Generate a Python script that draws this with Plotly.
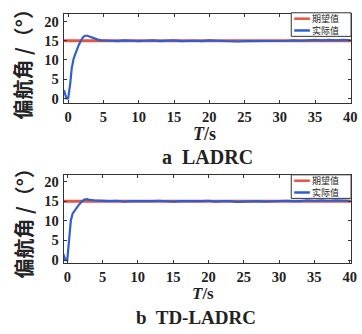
import plotly.graph_objects as go

# ---------------- data ----------------
# (a) LADRC
t_a = [-0.6, -0.4, -0.25, 0.0, 0.15, 0.3, 0.5, 0.75, 1.0, 1.25, 1.5, 1.8, 2.1, 2.4, 2.7, 3.0, 3.4, 3.8, 4.2, 4.7, 5.2,
       6, 7, 8, 9, 10, 11, 12, 13, 14, 15, 16, 17, 18, 19, 20, 21, 22, 23, 24, 25, 26, 27, 28, 29, 30,
       31, 32, 33, 34, 35, 36, 37, 38, 39, 40]
y_a = [2.2, 1.0, 0.0, 0.0, 1.5, 4.0, 7.8, 10.2, 11.5, 12.8, 13.9, 15.0, 15.9, 16.3, 16.3, 16.1, 15.8, 15.5, 15.3, 15.1, 15.0,
       15.0, 14.9, 15.1, 15.0, 14.9, 15.0, 15.1, 14.9, 15.0, 15.1, 14.9, 15.0, 15.0, 14.9, 15.1, 15.0, 14.9, 14.9, 14.8, 14.9, 14.9, 15.0, 14.9, 15.0, 15.0,
       15.0, 15.1, 15.0, 15.1, 15.2, 15.1, 15.2, 15.1, 15.2, 15.1]
ref_t_a = [-0.6, 40.5]
ref_y_a = [15, 15]

# (b) TD-LADRC
t_b = [-0.6, -0.4, -0.25, 0.0, 0.15, 0.3, 0.5, 0.75, 1.0, 1.3, 1.6, 2.0, 2.4, 2.8, 3.2, 3.8, 4.5, 5.2,
       6, 7, 8, 9, 10, 11, 12, 13, 14, 15, 16, 17, 18, 19, 20, 21, 22, 23, 24, 25, 26, 27, 28, 29, 30,
       31, 32, 33, 34, 35, 36, 37, 38, 39, 40]
y_b = [1.7, 0.6, 0.0, 0.0, 2.5, 6.5, 10.0, 11.8, 12.5, 13.2, 14.0, 14.8, 15.4, 15.5, 15.3, 15.2, 15.1, 15.1,
       15.0, 15.1, 14.9, 15.0, 15.0, 14.9, 15.0, 15.1, 15.0, 14.9, 15.0, 15.0, 14.9, 15.0, 15.1, 14.9, 15.0, 15.0, 14.8, 14.9, 14.9, 15.0, 14.9, 15.0, 15.0,
       15.1, 15.0, 15.0, 15.2, 15.1, 15.2, 15.1, 15.2, 15.1, 15.1]
ref_t_b = [-0.6, 40.5]
ref_y_b = [15, 15]

x_ticks = [0, 5, 10, 15, 20, 25, 30, 35, 40]
y_ticks = [0, 5, 10, 15, 20]
name_ref = "期望值"
name_act = "实际值"
ylabel = "偏航角 /（°）"
xlabel = "<i>T</i>/s"
cap_a = "a  LADRC"
cap_b = "b  TD-LADRC"

RED = "#e8553f"
BLUE = "#2f5fcf"
INK = "#222"
W, H = 362, 334

fig = go.Figure()
fig.add_trace(go.Scatter(x=ref_t_a, y=ref_y_a, mode="lines", name=name_ref,
                         line=dict(color=RED, width=3), xaxis="x", yaxis="y"))
fig.add_trace(go.Scatter(x=t_a, y=y_a, mode="lines", name=name_act,
                         line=dict(color=BLUE, width=2.2), xaxis="x", yaxis="y"))
fig.add_trace(go.Scatter(x=ref_t_b, y=ref_y_b, mode="lines", name=name_ref,
                         line=dict(color=RED, width=3), xaxis="x2", yaxis="y2"))
fig.add_trace(go.Scatter(x=t_b, y=y_b, mode="lines", name=name_act,
                         line=dict(color=BLUE, width=2.2), xaxis="x2", yaxis="y2"))

tickfont = dict(family="Liberation Serif", size=14.5, color=INK, weight="bold")
xd = [65 / W, 358 / W]
dom_a = [1 - 104 / H, 1 - 13 / H]
dom_b = [1 - 267 / H, 1 - 177 / H]

axis_common = dict(showline=True, linecolor="#333", linewidth=1, mirror="ticks", ticks="inside",
                   ticklen=3, tickcolor="#333", showgrid=False, zeroline=False, tickfont=tickfont,
                   ticklabeloverflow="allow")

fig.update_layout(
    width=W, height=H, margin=dict(l=0, r=0, t=0, b=0),
    paper_bgcolor="white", plot_bgcolor="white", showlegend=False,
    xaxis=dict(domain=xd, range=[-0.63, 40.1], tickvals=x_ticks, anchor="y", ticklabelstandoff=0, **axis_common),
    yaxis=dict(domain=dom_a, range=[-1.2, 22], tickvals=y_ticks, anchor="x", ticklabelstandoff=1, **axis_common),
    xaxis2=dict(domain=xd, range=[-0.5, 40.2], tickvals=x_ticks, anchor="y2", ticklabelstandoff=0, **axis_common),
    yaxis2=dict(domain=dom_b, range=[-0.8, 21.7], tickvals=y_ticks, anchor="x2", ticklabelstandoff=1, **axis_common),
)

# custom compact legends (decoration, in paper pixels)
def px_x(v):
    return v / W

def px_y(v):
    return 1 - v / H

for top in (12, 177):
    fig.add_shape(type="rect", xref="paper", yref="paper", x0=px_x(297), x1=px_x(358), y0=px_y(top + 24), y1=px_y(top),
                  line=dict(color="#333", width=1), fillcolor="white", layer="above")
    for k, (col, nm) in enumerate(((RED, name_ref), (BLUE, name_act))):
        yy = top + 6 + k * 12
        fig.add_shape(type="line", xref="paper", yref="paper", x0=px_x(300), x1=px_x(316), y0=px_y(yy), y1=px_y(yy),
                      line=dict(color=col, width=2.5), layer="above")
        fig.add_annotation(xref="paper", yref="paper", x=px_x(317), y=px_y(yy), text=nm, showarrow=False,
                           xanchor="left", yanchor="middle", borderpad=0,
                           font=dict(family="Noto Sans CJK SC", size=9, color=INK))

annots = [
    dict(text=ylabel, x=23 / W, y=1 - 60 / H, textangle=-90, font=dict(family="Noto Sans CJK SC", size=20, color=INK, weight="bold")),
    dict(text=xlabel, x=209 / W, y=1 - 135 / H, font=dict(family="Liberation Serif", size=18, color=INK, weight="bold")),
    dict(text=cap_a, x=212 / W, y=1 - 159 / H, font=dict(family="Liberation Serif", size=20, color=INK, weight="bold")),
    dict(text=ylabel, x=23 / W, y=1 - 222 / H, textangle=-90, font=dict(family="Noto Sans CJK SC", size=20, color=INK, weight="bold")),
    dict(text=xlabel, x=207 / W, y=1 - 298 / H, font=dict(family="Liberation Serif", size=17, color=INK, weight="bold")),
    dict(text=cap_b, x=200 / W, y=1 - 322 / H, font=dict(family="Liberation Serif", size=19, color=INK, weight="bold")),
]
for a in annots:
    fig.add_annotation(xref="paper", yref="paper", showarrow=False, xanchor="center", yanchor="middle", borderpad=0, **a)

fig.write_html("out.html", config={"displayModeBar": False},
               post_script="document.body.style.margin='0';document.body.style.padding='0';")
